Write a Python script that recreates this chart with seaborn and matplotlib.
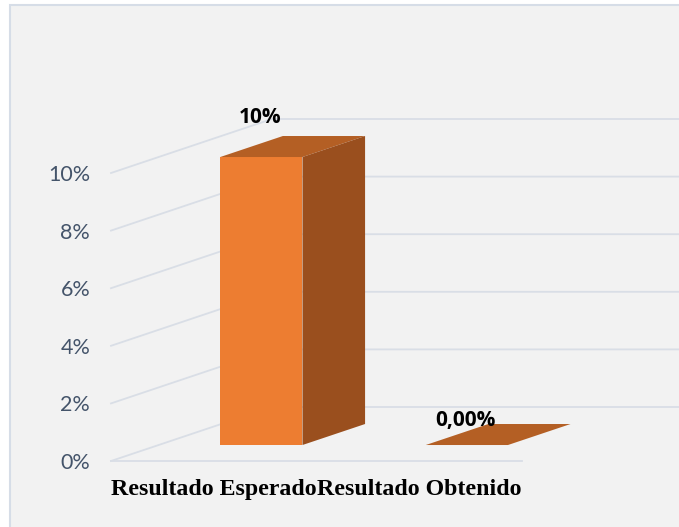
import matplotlib
matplotlib.use("Agg")
import matplotlib.pyplot as plt
import seaborn as sns
from matplotlib.patches import Polygon, Rectangle

# datos del grafico
categorias = ["Resultado Esperado", "Resultado Obtenido"]
valores = [10, 0]  # en %
etiquetas = ["10%", "0,00%"]
ticks = [0, 2, 4, 6, 8, 10]
tick_labels = ["0%", "2%", "4%", "6%", "8%", "10%"]

W, H = 679, 527
naranja = "#ED7D31"
naranja_top = "#B45F24"
naranja_lado = "#9A4F1E"
gris_grid = "#d9dee6"

fig = plt.figure(figsize=(W / 100, H / 100), dpi=100, facecolor="white")
# fondo gris con borde claro
fig.patches.append(Rectangle((9.5 / W, -0.01), 1, (H - 4.5) / H + 0.01,
                             transform=fig.transFigure, facecolor="#f2f2f2",
                             edgecolor="#d6dde7", lw=1.5, zorder=-5))

ax = fig.add_axes([111 / W, 66 / H, 411 / W, 345.6 / H])
ax.set_facecolor("none")

# profundidad del efecto 3D (en unidades de datos)
DX, DY = 0.783, 1.875
f_front, f_back = 0.296, 0.685

# lineas de cuadricula (suelo y pared del fondo)
for v in ticks:
    ax.plot([-0.5, -0.5 + DX, 2.6], [v, v + DY, v + DY], color=gris_grid,
            lw=1.3, clip_on=False, zorder=1)
ax.plot([-0.5, 1.5], [0, 0], color=gris_grid, lw=1.3, clip_on=False, zorder=1)

sns.barplot(x=categorias, y=valores, width=0.4, color=naranja, saturation=1,
            ax=ax, zorder=3)

barras = list(ax.patches)
desplaz = [40, 25]  # separacion de la etiqueta en pixeles
for p, txt, off in zip(barras, etiquetas, desplaz):
    x, w, h = p.get_x(), p.get_width(), p.get_height()
    x0 = x + f_front * DX
    y0 = f_front * DY
    p.set_x(x0)
    p.set_y(y0)
    p.set_edgecolor("none")
    p.set_clip_on(False)
    bx = (f_back - f_front) * DX
    by = (f_back - f_front) * DY
    top = [(x0, y0 + h), (x0 + w, y0 + h), (x0 + w + bx, y0 + h + by), (x0 + bx, y0 + h + by)]
    ax.add_patch(Polygon(top, closed=True, facecolor=naranja_top, edgecolor="none",
                         zorder=3, clip_on=False))
    if h > 0:
        lado = [(x0 + w, y0), (x0 + w + bx, y0 + by), (x0 + w + bx, y0 + h + by), (x0 + w, y0 + h)]
        ax.add_patch(Polygon(lado, closed=True, facecolor=naranja_lado, edgecolor="none",
                             zorder=3, clip_on=False))
    ax.annotate(txt, xy=(x0 + w / 2, y0 + h), xytext=(-1, off), textcoords="offset pixels",
                ha="center", va="center", fontsize=15, fontweight="bold",
                family="Open Sans", color="black", zorder=5)

ax.set_xlim(-0.5, 1.5)
ax.set_ylim(0, 12)
ax.set_yticks(ticks, tick_labels)
ax.set_xticks([0, 1], categorias)
ax.tick_params(axis="y", length=0, pad=15, labelsize=15.5, labelcolor="#44546a")
ax.tick_params(axis="x", length=0, pad=13)
for lbl in ax.get_yticklabels():
    lbl.set_family("Lato")
for lbl in ax.get_xticklabels():
    lbl.set_family("Liberation Serif")
    lbl.set_fontweight("bold")
    lbl.set_fontsize(17.2)
ax.set_xlabel("")
ax.set_ylabel("")
for s in ax.spines.values():
    s.set_visible(False)

fig.savefig("out.png", dpi=100)
